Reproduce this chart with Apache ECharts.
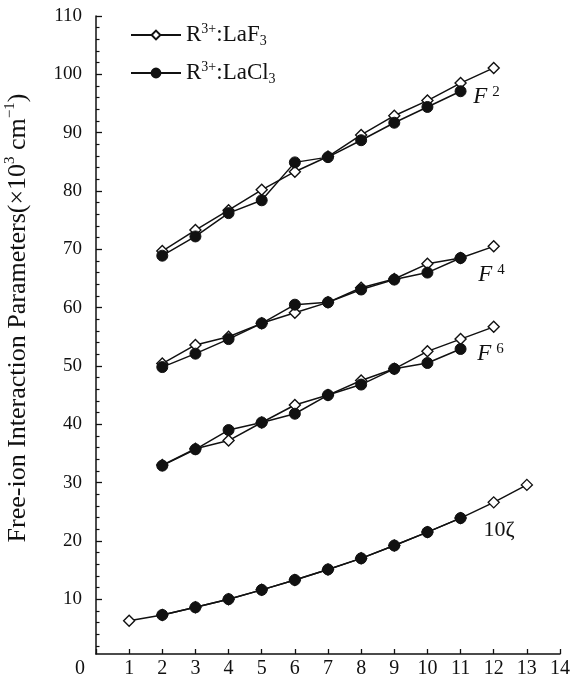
<!DOCTYPE html>
<html>
<head>
<meta charset="utf-8">
<script src="https://cdn.jsdelivr.net/npm/echarts@6/dist/echarts.min.js"></script>
<style>
  html, body { margin: 0; padding: 0; background: #fff; }
  #chart { width: 582px; height: 690px; }
</style>
</head>
<body>
<div id="chart"></div>
<script>
// Rare-earth ion index along the series (x) for each data set
const xF = [2, 3, 4, 5, 6, 7, 8, 9, 10, 11, 12];
const xCl = [2, 3, 4, 5, 6, 7, 8, 9, 10, 11];
const xZetaF = [1, 2, 3, 4, 5, 6, 7, 8, 9, 10, 11, 12, 13];
const xZetaCl = [2, 3, 4, 5, 6, 7, 8, 9, 10, 11];

// Slater parameters F2, F4, F6 and 10 x spin-orbit constant (10^3 cm^-1)
const f2LaF3 = [69.7, 73.3, 76.7, 80.2, 83.3, 85.9, 89.6, 92.9, 95.5, 98.5, 101.1];
const f2LaCl3 = [68.9, 72.2, 76.2, 78.4, 84.9, 85.8, 88.7, 91.7, 94.4, 97.1];
const f4LaF3 = [50.4, 53.6, 55.0, 57.3, 59.1, 60.9, 63.4, 64.9, 67.5, 68.5, 70.5];
const f4LaCl3 = [49.8, 52.1, 54.6, 57.3, 60.5, 60.9, 63.1, 64.8, 66.0, 68.5];
const f6LaF3 = [33.0, 35.8, 37.2, 40.3, 43.3, 45.0, 47.5, 49.5, 52.5, 54.6, 56.7];
const f6LaCl3 = [32.9, 35.7, 39.0, 40.3, 41.8, 45.0, 46.8, 49.5, 50.5, 52.9];
const zetaLaF3 = [6.3, 7.3, 8.6, 10.0, 11.6, 13.3, 15.1, 17.0, 19.2, 21.5, 23.9, 26.6, 29.6];
const zetaLaCl3 = [7.3, 8.6, 10.0, 11.6, 13.3, 15.1, 17.0, 19.2, 21.5, 23.9];

// Axis ticks
const xTickLabels = [0, 1, 2, 3, 4, 5, 6, 7, 8, 9, 10, 11, 12, 13, 14];
const yMajorTicks = [10, 20, 30, 40, 50, 60, 70, 80, 90, 100, 110];
const yMinorTicks = [];
for (let v = 2; v < 110; v += 2) if (v % 10 !== 0) yMinorTicks.push(v);

// Curve annotations, anchored in data coordinates
const curveLabels = ['{f|F}{s|2}', '{f|F}{s|4}', '{f|F}{s|6}', '{n|10ζ}'];
const curveLabelX = [11.38, 11.53, 11.5, 11.69];
const curveLabelY = [96.2, 65.6, 52.1, 21.9];

const NAME_F = 'R3+:LaF3';
const NAME_CL = 'R3+:LaCl3';
const SERIF = '"Liberation Serif", "Times New Roman", serif';
const INK = '#111111';

const zip = (xs, ys) => xs.map((x, i) => [x, ys[i]]);

function fluoride(data) {
  return {
    type: 'line', name: NAME_F, data: data,
    symbol: 'diamond', symbolSize: 11,
    lineStyle: { color: INK, width: 1.5 },
    itemStyle: { color: '#fff', borderColor: INK, borderWidth: 1.4 },
    z: 2
  };
}
function chloride(data) {
  return {
    type: 'line', name: NAME_CL, data: data,
    symbol: 'circle', symbolSize: 11,
    lineStyle: { color: INK, width: 1.5 },
    itemStyle: { color: INK, borderColor: INK, borderWidth: 1 },
    z: 3
  };
}

const chart = echarts.init(document.getElementById('chart'), null, { renderer: 'canvas' });

const option = {
  animation: false,
  backgroundColor: '#fff',
  grid: { left: 96, right: 22, top: 16, bottom: 36, containLabel: false },
  legend: {
    data: [NAME_F, NAME_CL],
    orient: 'vertical',
    left: 130, top: 22, padding: 0,
    itemWidth: 50, itemHeight: 11, itemGap: 12,
    formatter: function (name) {
      return name === NAME_F
        ? '{n|R}{sup|3+}{n|:LaF}{sub|3}'
        : '{n|R}{sup|3+}{n|:LaCl}{sub|3}';
    },
    textStyle: {
      color: INK,
      rich: {
        n: { fontFamily: SERIF, fontSize: 23, lineHeight: 26, color: INK },
        sup: { fontFamily: SERIF, fontSize: 14, lineHeight: 14, verticalAlign: 'top', color: INK },
        sub: { fontFamily: SERIF, fontSize: 14, lineHeight: 14, verticalAlign: 'bottom', color: INK }
      }
    }
  },
  xAxis: {
    type: 'value', min: 0, max: 14, interval: 1,
    axisLine: { show: true, lineStyle: { color: INK, width: 1.5 } },
    axisTick: { show: true, inside: true, length: 5, lineStyle: { color: INK, width: 1.3 } },
    splitLine: { show: false },
    axisLabel: {
      margin: 5,
      color: INK, fontFamily: SERIF, fontSize: 20,
      formatter: function (v) {
        const label = String(xTickLabels[v]);
        return v === 0 ? '{z|' + label + '}' : label;
      },
      rich: { z: { fontFamily: SERIF, fontSize: 20, color: INK, padding: [0, 32, 0, 0] } }
    }
  },
  yAxis: [
    {
      type: 'value', min: 0.6, max: 110,
      axisLine: { show: true, lineStyle: { color: INK, width: 1.5 } },
      axisTick: { show: true, inside: true, length: 6, customValues: yMajorTicks,
                  lineStyle: { color: INK, width: 1.3 } },
      axisLabel: { customValues: yMajorTicks, margin: 14, color: INK,
                   fontFamily: SERIF, fontSize: 19 },
      splitLine: { show: false }
    },
    {
      type: 'value', min: 0.6, max: 110, position: 'left',
      axisLine: { show: false },
      axisTick: { show: true, inside: true, length: 3.5, customValues: yMinorTicks,
                  lineStyle: { color: INK, width: 1.2 } },
      axisLabel: { show: false },
      splitLine: { show: false }
    }
  ],
  graphic: [
    {
      type: 'text', x: 18, y: 318, rotation: Math.PI / 2,
      style: {
        text: '{t|Free-ion Interaction Parameters(×10}{u|3}{t| cm}{u|−1}{t|)}',
        align: 'center', verticalAlign: 'middle',
        rich: {
          t: { fontFamily: SERIF, fontSize: 26, lineHeight: 30, fill: INK },
          u: { fontFamily: SERIF, fontSize: 15, lineHeight: 15, verticalAlign: 'top', fill: INK }
        }
      }
    }
  ],
  series: [
    fluoride(zip(xF, f2LaF3)),
    fluoride(zip(xF, f4LaF3)),
    fluoride(zip(xF, f6LaF3)),
    fluoride(zip(xZetaF, zetaLaF3)),
    chloride(zip(xCl, f2LaCl3)),
    chloride(zip(xCl, f4LaCl3)),
    chloride(zip(xCl, f6LaCl3)),
    chloride(zip(xZetaCl, zetaLaCl3)),
    {
      type: 'scatter', name: 'labels', silent: true,
      symbolSize: 0,
      itemStyle: { opacity: 1, color: INK },
      data: curveLabels.map((t, i) => ({ value: [curveLabelX[i], curveLabelY[i]], text: t })),
      label: {
        show: true, position: 'right', distance: 0,
        color: INK, opacity: 1, textBorderWidth: 0,
        formatter: function (p) { return p.data.text; },
        rich: {
          f: { fontFamily: SERIF, fontStyle: 'italic', fontSize: 23, lineHeight: 24, color: INK },
          s: { fontFamily: SERIF, fontSize: 15, lineHeight: 15, verticalAlign: 'top', color: INK, padding: [0, 0, 0, 5] },
          n: { fontFamily: SERIF, fontSize: 22, lineHeight: 24, color: INK }
        }
      },
      z: 5
    }
  ]
};

chart.setOption(option);
</script>
</body>
</html>
